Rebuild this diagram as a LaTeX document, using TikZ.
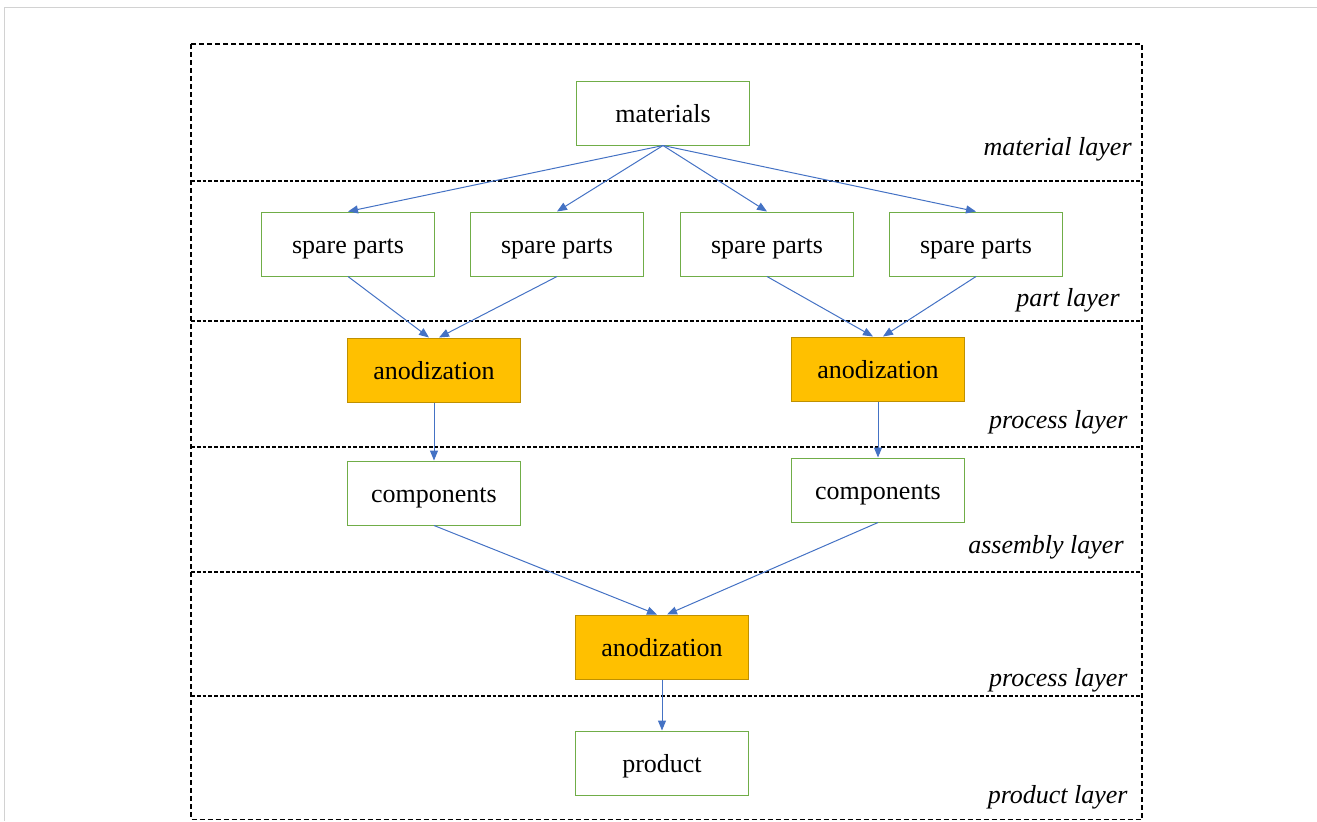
\documentclass[tikz,border=0pt]{standalone}
\usepackage{fontspec}
\setmainfont{Liberation Serif}
\usetikzlibrary{arrows.meta,positioning}
\definecolor{boxgreen}{RGB}{112,173,71}
\definecolor{procfill}{RGB}{255,192,0}
\definecolor{procdraw}{RGB}{191,144,0}
\definecolor{flowblue}{RGB}{68,114,196}
\tikzset{
  unit/.style={draw=boxgreen, fill=white, line width=0.5pt, minimum width=86.5pt,
               minimum height=32pt, inner sep=0pt, text height=1.19em, text depth=0.2em,
               font=\fontsize{13}{15}\selectfont},
  proc/.style={unit, draw=procdraw, fill=procfill},
  layername/.style={anchor=base east, inner sep=0pt, font=\fontsize{13}{15}\selectfont\itshape},
  framebox/.style={line width=0.75pt, dash pattern=on 2.5pt off 1.5pt},
  layerline/.style={line width=0.9pt, dash pattern=on 1.9pt off 1pt},
  flow/.style={draw=flowblue, line width=0.5pt, -{Triangle[length=5pt,width=4pt]}}
}
\begin{document}
\begin{tikzpicture}[x=0.5pt, y=-0.5pt]
  \useasboundingbox (0,0) rectangle (1317,821);
  % page frame
  \draw[gray!35, line width=0.8pt] (4.5,821) -- (4.5,7.5) -- (1317,7.5);
  % layers
  \draw[framebox] (191,44) rectangle (1142,819.5);
  \foreach \y in {181,321,447,572,696}
    \draw[layerline] (191,\y) -- (1142,\y);
  \node[layername] (lmat)  at (1132,155) {material layer};
  \node[layername] (lpart) at (1120,306) {part layer};
  \node[layername] (lproa) at (1128,428) {process layer};
  \node[layername] (lasm)  at (1124,553) {assembly layer};
  \node[layername] (lprob) at (1128,686) {process layer};
  \node[layername] (lprod) at (1128,803) {product layer};
  % nodes
  \node[unit] (mat) at (663,113) {materials};
  \node[unit] (sp1) at (348,244) {spare parts};
  \node[unit] (sp2) at (557,244) {spare parts};
  \node[unit] (sp3) at (767,244) {spare parts};
  \node[unit] (sp4) at (976,244) {spare parts};
  \node[proc] (anod1) at (434,370) {anodization};
  \node[proc] (anod2) at (878,369) {anodization};
  \node[unit] (comp1) at (434,493) {components};
  \node[unit] (comp2) at (878,490) {components};
  \node[proc] (anod3) at (662,647) {anodization};
  \node[unit] (prod) at (662,763) {product};
  % connectors
  \foreach \s in {sp1,sp2,sp3,sp4}
    \draw[flow] (mat.south) -- (\s.north);
  \draw[flow] (sp1.south) -- ([xshift=-2.5pt]anod1.north);
  \draw[flow] (sp2.south) -- ([xshift=2.5pt]anod1.north);
  \draw[flow] (sp3.south) -- ([xshift=-2.5pt]anod2.north);
  \draw[flow] (sp4.south) -- ([xshift=2.5pt]anod2.north);
  \draw[flow] (anod1.south) -- (comp1.north);
  \draw[flow] (anod2.south) -- (comp2.north);
  \draw[flow] (comp1.south) -- ([xshift=-2.5pt]anod3.north);
  \draw[flow] (comp2.south) -- ([xshift=2.5pt]anod3.north);
  \draw[flow] (anod3.south) -- (prod.north);
\end{tikzpicture}
\end{document}
